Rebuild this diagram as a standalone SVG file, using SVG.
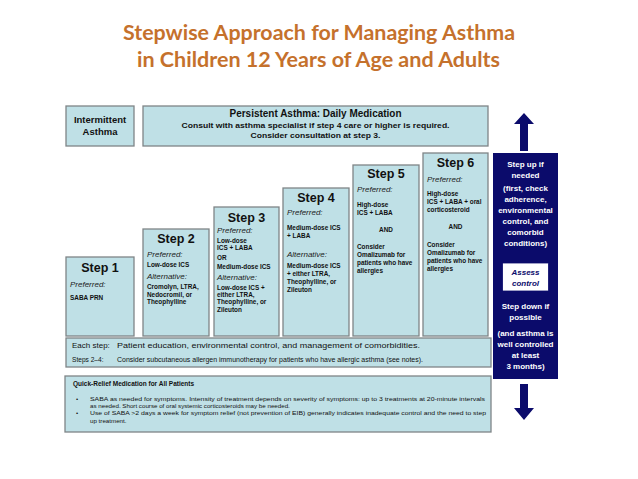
<svg xmlns="http://www.w3.org/2000/svg" width="638" height="479" viewBox="0 0 638 479">
<defs>
<style>
.title{font-family:Lato,"Liberation Sans",sans-serif;font-weight:bold;font-size:21px;fill:#C5712C;text-anchor:middle}
.box{fill:#BFE0E6;stroke:#7F8587;stroke-width:1.3}
.t{font-family:"Liberation Sans",Arial,sans-serif;fill:#111}
.b{font-weight:bold}
.hd{font-family:"Liberation Sans",Arial,sans-serif;font-weight:bold;font-size:12.5px;fill:#111;text-anchor:middle}
.pf{font-family:"Liberation Sans",Arial,sans-serif;font-style:italic;font-size:8px;fill:#222}
.s{font-family:"Liberation Sans",Arial,sans-serif;font-weight:bold;font-size:6.4px;fill:#111}
.c{text-anchor:middle}
.w{font-family:"Liberation Sans",Arial,sans-serif;font-weight:bold;font-size:8px;fill:#fff;text-anchor:middle}
.navy{fill:#0B0B6B}
</style>
</defs>
<rect width="638" height="479" fill="#fff"/>
<g id="title">
<text class="title" x="319" y="40" textLength="392" lengthAdjust="spacingAndGlyphs">Stepwise Approach for Managing Asthma</text>
<text class="title" x="318.5" y="67" textLength="363" lengthAdjust="spacingAndGlyphs">in Children 12 Years of Age and Adults</text>
</g>
<g id="intermittent">
<rect class="box" x="66" y="106" width="68" height="40"/>
<text class="t b c" x="100" y="123" font-size="9.5">Intermittent</text>
<text class="t b c" x="100" y="135" font-size="9.5">Asthma</text>
</g>
<g id="persistent">
<rect class="box" x="143" y="106" width="345" height="40"/>
<text class="t b c" x="315.5" y="117" font-size="10" textLength="172" lengthAdjust="spacingAndGlyphs">Persistent Asthma: Daily Medication</text>
<text class="t b c" x="315.5" y="128" font-size="8" textLength="268" lengthAdjust="spacingAndGlyphs">Consult with asthma specialist if step 4 care or higher is required.</text>
<text class="t b c" x="315.5" y="138" font-size="8" textLength="130" lengthAdjust="spacingAndGlyphs">Consider consultation at step 3.</text>
</g>
<g id="step1">
<rect class="box" x="66" y="257" width="68" height="79"/>
<text class="hd" x="100" y="272">Step 1</text>
<text class="pf" x="70" y="287">Preferred:</text>
<text class="s" x="70" y="300">SABA PRN</text>
</g>
<g id="step2">
<rect class="box" x="143" y="229" width="66" height="107"/>
<text class="hd" x="176" y="243">Step 2</text>
<text class="pf" x="147" y="257">Preferred:</text>
<text class="s" x="147" y="267">Low-dose ICS</text>
<text class="pf" x="147" y="279">Alternative:</text>
<text class="s" x="147" y="289">Cromolyn, LTRA,</text>
<text class="s" x="147" y="296.5">Nedocromil, or</text>
<text class="s" x="147" y="304">Theophylline</text>
</g>
<g id="step3">
<rect class="box" x="214" y="207" width="65" height="129"/>
<text class="hd" x="246.5" y="222">Step 3</text>
<text class="pf" x="217" y="233">Preferred:</text>
<text class="s" x="217" y="243">Low-dose</text>
<text class="s" x="217" y="250">ICS + LABA</text>
<text class="s" x="217" y="260">OR</text>
<text class="s" x="217" y="269">Medium-dose ICS</text>
<text class="pf" x="217" y="280">Alternative:</text>
<text class="s" x="217" y="290">Low-dose ICS +</text>
<text class="s" x="217" y="297">either LTRA,</text>
<text class="s" x="217" y="304">Theophylline, or</text>
<text class="s" x="217" y="311.5">Zileuton</text>
</g>
<g id="step4">
<rect class="box" x="283" y="188" width="66" height="148"/>
<text class="hd" x="316" y="202">Step 4</text>
<text class="pf" x="287" y="215">Preferred:</text>
<text class="s" x="287" y="230">Medium-dose ICS</text>
<text class="s" x="287" y="238">+ LABA</text>
<text class="pf" x="287" y="257">Alternative:</text>
<text class="s" x="287" y="268">Medium-dose ICS</text>
<text class="s" x="287" y="276">+ either LTRA,</text>
<text class="s" x="287" y="284">Theophylline, or</text>
<text class="s" x="287" y="292">Zileuton</text>
</g>
<g id="step5">
<rect class="box" x="353" y="165" width="66" height="171"/>
<text class="hd" x="386" y="178">Step 5</text>
<text class="pf" x="357" y="192">Preferred:</text>
<text class="s" x="357" y="207">High-dose</text>
<text class="s" x="357" y="215">ICS + LABA</text>
<text class="s c" x="386" y="232">AND</text>
<text class="s" x="357" y="249">Consider</text>
<text class="s" x="357" y="257">Omalizumab for</text>
<text class="s" x="357" y="265">patients who have</text>
<text class="s" x="357" y="273">allergies</text>
</g>
<g id="step6">
<rect class="box" x="423" y="153" width="65" height="183"/>
<text class="hd" x="455.5" y="167">Step 6</text>
<text class="pf" x="427" y="182">Preferred:</text>
<text class="s" x="427" y="196">High-dose</text>
<text class="s" x="427" y="204">ICS + LABA + oral</text>
<text class="s" x="427" y="212">corticosteroid</text>
<text class="s c" x="455.5" y="229">AND</text>
<text class="s" x="427" y="247">Consider</text>
<text class="s" x="427" y="255">Omalizumab for</text>
<text class="s" x="427" y="263">patients who have</text>
<text class="s" x="427" y="271">allergies</text>
</g>
<g id="each-step">
<rect class="box" x="66" y="338" width="425" height="29"/>
<text class="t" x="72" y="348" font-size="8">Each step:</text>
<text class="t" x="117" y="348" font-size="8" textLength="303" lengthAdjust="spacingAndGlyphs">Patient education, environmental control, and management of comorbidities.</text>
<text class="t" x="72" y="362" font-size="6.6">Steps 2–4:</text>
<text class="t" x="117" y="362" font-size="6.6" textLength="306" lengthAdjust="spacingAndGlyphs">Consider subcutaneous allergen immunotherapy for patients who have allergic asthma (see notes).</text>
</g>
<g id="quick-relief">
<rect class="box" x="65" y="376" width="426" height="56"/>
<text class="t b" x="73" y="386" font-size="6.5">Quick-Relief Medication for All Patients</text>
<text class="t" x="76" y="401" font-size="6.2">•</text>
<text class="t" x="90" y="401" font-size="6.2" textLength="395" lengthAdjust="spacingAndGlyphs">SABA as needed for symptoms. Intensity of treatment depends on severity of symptoms: up to 3 treatments at 20-minute intervals</text>
<text class="t" x="90" y="408" font-size="6.2">as needed.  Short course of oral systemic corticosteroids may be needed.</text>
<text class="t" x="76" y="415" font-size="6.2">•</text>
<text class="t" x="90" y="415" font-size="6.2" textLength="396" lengthAdjust="spacingAndGlyphs">Use of SABA &gt;2 days a week for symptom relief (not prevention of EIB) generally indicates inadequate control and the need to step</text>
<text class="t" x="90" y="423" font-size="6.2">up treatment.</text>
</g>
<g id="connectors">
<path class="navy" d="M524 113 L534 124 L528 124 L528 151 L520 151 L520 124 L514 124 Z"/>
<path class="navy" d="M520 384 L528 384 L528 408 L534 408 L524 420 L514 408 L520 408 Z"/>
</g>
<g id="step-column">
<rect class="navy" x="493" y="153" width="65" height="226"/>
<text class="w" x="525.5" y="167">Step up if</text>
<text class="w" x="525.5" y="178">needed</text>
<text class="w" x="525.5" y="191">(first, check</text>
<text class="w" x="525.5" y="202">adherence,</text>
<text class="w" x="525.5" y="213">environmental</text>
<text class="w" x="525.5" y="224">control, and</text>
<text class="w" x="525.5" y="235">comorbid</text>
<text class="w" x="525.5" y="246">conditions)</text>
<rect x="502.5" y="263" width="46" height="28" fill="#fff" stroke="#0B0B6B" stroke-width="0.8"/>
<text class="w" x="525.5" y="275" font-style="italic" style="fill:#0B0B6B">Assess</text>
<text class="w" x="525.5" y="286" font-style="italic" style="fill:#0B0B6B">control</text>
<text class="w" x="525.5" y="309">Step down if</text>
<text class="w" x="525.5" y="320">possible</text>
<text class="w" x="525.5" y="336">(and asthma is</text>
<text class="w" x="525.5" y="347">well controlled</text>
<text class="w" x="525.5" y="358">at least</text>
<text class="w" x="525.5" y="369">3 months)</text>
</g>
</svg>
